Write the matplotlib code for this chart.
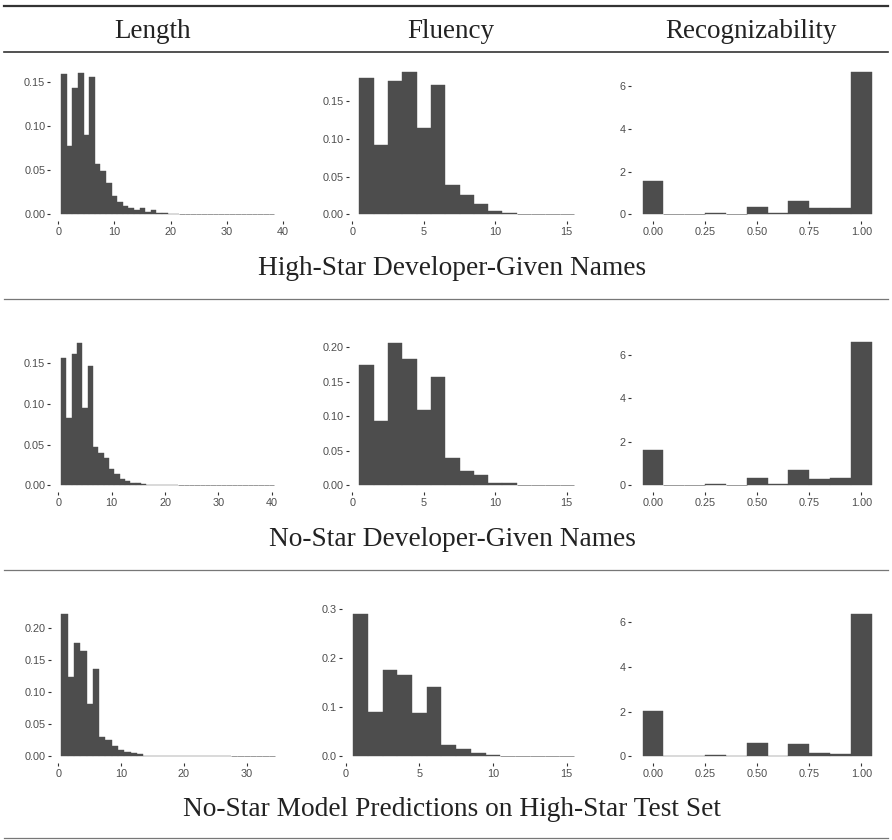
import numpy as np
import matplotlib
matplotlib.use("Agg")
import matplotlib.pyplot as plt
from matplotlib.lines import Line2D

# ---------------- data ----------------
col_titles = ["Length", "Fluency", "Recognizability"]
row_titles = ["High-Star Developer-Given Names",
              "No-Star Developer-Given Names",
              "No-Star Model Predictions on High-Star Test Set"]

# Length histograms (density, bins of width 1 centred on 1, 2, 3, ...)
length_r1 = [0.159, 0.0777, 0.1436, 0.161, 0.090, 0.156, 0.057, 0.049, 0.0356, 0.021,
             0.014, 0.010, 0.0072, 0.005, 0.0076, 0.0027, 0.005, 0.0015, 0.001, 0.0008,
             0.0008, 0.0006,
             0.0002, 0.0002, 0.0002, 0.0002, 0.0002, 0.0002, 0.0002,
             0.0002, 0.0002, 0.0002, 0.0002, 0.0002, 0.0002, 0.0002, 0.0002, 0.0002]
length_r2 = [0.1566, 0.0828, 0.1615, 0.175, 0.095, 0.1467, 0.0471, 0.0398, 0.0336, 0.020,
             0.0139, 0.0078, 0.0053, 0.0029, 0.0025, 0.0016,
             0.0008, 0.0008, 0.0008, 0.0008, 0.0008, 0.0008,
             0.0001, 0.0001, 0.0001, 0.0001, 0.0001, 0.0001, 0.0001,
             0.0002, 0.0002, 0.0002, 0.0002, 0.0002, 0.0002, 0.0002, 0.0002, 0.0002, 0.0002,
             0.0005]
length_r3 = [0.221, 0.123, 0.176, 0.164, 0.0813, 0.1358, 0.030, 0.0254, 0.0161, 0.0098,
             0.0067, 0.0052, 0.0036,
             0.001, 0.001, 0.001, 0.001, 0.001, 0.001, 0.001,
             0.001, 0.001, 0.001, 0.001, 0.001, 0.001, 0.001,
             0.0002, 0.0002, 0.0002, 0.0002, 0.0002, 0.0002, 0.0002]

# Fluency histograms (density, bins centred on 1..15)
fluency_r1 = [0.181, 0.092, 0.177, 0.189, 0.1146, 0.171, 0.039, 0.0257, 0.0137, 0.0044,
              0.0013, 0.0005, 0.0005, 0.0005, 0.0005]
fluency_r2 = [0.175, 0.0932, 0.206, 0.183, 0.109, 0.157, 0.0396, 0.0208, 0.015, 0.0034,
              0.0034, 0.0005, 0.0005, 0.0005, 0.0005]
fluency_r3 = [0.2905, 0.0905, 0.176, 0.166, 0.0884, 0.1415, 0.0231, 0.015, 0.0068, 0.0027,
              0.0007, 0.0007, 0.0007, 0.0007, 0.0007]

# Recognizability histograms (density, bins of width 0.1 centred on 0.0..1.0)
recog_bins = [0.0, 0.1, 0.2, 0.3, 0.4, 0.5, 0.6, 0.7, 0.8, 0.9, 1.0]
recog_r1 = [1.56, 0.015, 0.015, 0.06, 0.015, 0.34, 0.06, 0.62, 0.30, 0.30, 6.65]
recog_r2 = [1.63, 0.005, 0.02, 0.06, 0.02, 0.34, 0.06, 0.71, 0.29, 0.34, 6.57]
recog_r3 = [2.03, 0.03, 0.03, 0.06, 0.03, 0.61, 0.03, 0.55, 0.15, 0.10, 6.37]

length_xticks = [[0, 10, 20, 30, 40], [0, 10, 20, 30, 40], [0, 10, 20, 30]]
length_yticks = [[0, 0.05, 0.10, 0.15], [0, 0.05, 0.10, 0.15], [0, 0.05, 0.10, 0.15, 0.20]]
fluency_xticks = [0, 5, 10, 15]
fluency_yticks = [[0, 0.05, 0.10, 0.15], [0, 0.05, 0.10, 0.15, 0.20], [0, 0.1, 0.2, 0.3]]
recog_xticks = [0, 0.25, 0.50, 0.75, 1.00]
recog_yticks = [0, 2, 4, 6]

# ---------------- layout ----------------
W, H = 892, 840
fig = plt.figure(figsize=(W / 100, H / 100), dpi=100)
BAR = "#4D4D4D"
TICKFONT = "Liberation Sans"
SERIF = "Liberation Serif"

# pixel calibration: (x value a, px a, x value b, px b), (y value a, px a, y value b, px b)
calib = {
    (0, 0): ((0, 58.3, 40, 282.7), (0, 214.3, 0.15, 82.3)),
    (0, 1): ((0, 352.3, 15, 566.7), (0, 214.3, 0.15, 101.3)),
    (0, 2): ((0, 653.0, 1, 861.3), (0, 214.3, 6, 86.0)),
    (1, 0): ((0, 58.3, 40, 271.7), (0, 485.3, 0.15, 363.3)),
    (1, 1): ((0, 352.3, 15, 566.7), (0, 485.3, 0.20, 347.3)),
    (1, 2): ((0, 653.0, 1, 861.3), (0, 485.3, 6, 354.7)),
    (2, 0): ((0, 58.3, 30, 246.7), (0, 756.3, 0.20, 627.7)),
    (2, 1): ((0, 345.7, 15, 566.7), (0, 756.3, 0.3, 609.3)),
    (2, 2): ((0, 653.0, 1, 861.3), (0, 756.3, 6, 622.3)),
}

panels = {
    (0, 0): (length_r1, None, length_xticks[0], length_yticks[0], "{:.2f}", "{:g}"),
    (1, 0): (length_r2, None, length_xticks[1], length_yticks[1], "{:.2f}", "{:g}"),
    (2, 0): (length_r3, None, length_xticks[2], length_yticks[2], "{:.2f}", "{:g}"),
    (0, 1): (fluency_r1, None, fluency_xticks, fluency_yticks[0], "{:.2f}", "{:g}"),
    (1, 1): (fluency_r2, None, fluency_xticks, fluency_yticks[1], "{:.2f}", "{:g}"),
    (2, 1): (fluency_r3, None, fluency_xticks, fluency_yticks[2], "{:.1f}", "{:g}"),
    (0, 2): (recog_r1, recog_bins, recog_xticks, recog_yticks, "{:g}", "{:.2f}"),
    (1, 2): (recog_r2, recog_bins, recog_xticks, recog_yticks, "{:g}", "{:.2f}"),
    (2, 2): (recog_r3, recog_bins, recog_xticks, recog_yticks, "{:g}", "{:.2f}"),
}

for (r, c), (heights, bins, xt, yt, yfmt, xfmt) in panels.items():
    heights = np.asarray(heights, dtype=float)
    if bins is None:
        centers = np.arange(1, len(heights) + 1, dtype=float)
        width = 1.0
    else:
        centers = np.asarray(bins, dtype=float)
        width = 0.1
    lo, hi = centers[0] - width / 2, centers[-1] + width / 2
    ex = 0.05 * (hi - lo)
    xlim = (lo - ex, hi + ex)
    ymax = heights.max()
    ylim = (-0.05 * ymax, 1.05 * ymax)

    (xa, pxa, xb, pxb), (ya, pya, yb, pyb) = calib[(r, c)]
    sx = (pxb - pxa) / (xb - xa)
    sy = (pyb - pya) / (yb - ya)
    left = pxa + (xlim[0] - xa) * sx
    right = pxa + (xlim[1] - xa) * sx
    bottom = pya + (ylim[0] - ya) * sy
    top = pya + (ylim[1] - ya) * sy

    ax = fig.add_axes([left / W, 1 - bottom / H, (right - left) / W, (bottom - top) / H])
    tiny = heights < 0.004 * ymax
    # near-zero bins render as a faint hairline, as in the reference
    ax.bar(centers[~tiny], heights[~tiny], width=width, color=BAR,
           edgecolor=BAR, linewidth=0.3, align="center")
    ax.bar(centers[tiny], heights[tiny], width=width, color=BAR,
           edgecolor="#8A8A8A", linewidth=0.6, align="center")
    ax.set_xlim(*xlim)
    ax.set_ylim(*ylim)
    for s in ax.spines.values():
        s.set_visible(False)
    ax.set_xticks(xt)
    ax.set_xticklabels([xfmt.format(v) for v in xt])
    ax.set_yticks(yt)
    ax.set_yticklabels([yfmt.format(v) for v in yt])
    ax.tick_params(axis="both", length=2.2, width=0.8, color="#333333",
                   labelcolor="#4D4D4D", labelsize=7.8, pad=1.5)
    for lab in ax.get_xticklabels() + ax.get_yticklabels():
        lab.set_fontfamily(TICKFONT)
    ax.patch.set_visible(False)

# ---------------- titles and rules ----------------
col_centers = [153, 451, 751]
for cx, t in zip(col_centers, col_titles):
    fig.text(cx / W, 1 - 37.7 / H, t, ha="center", va="baseline",
             fontsize=19.5, family=SERIF, color="#222222")

row_baselines = [275.0, 545.7, 816.4]
for by, t in zip(row_baselines, row_titles):
    fig.text(452 / W, 1 - by / H, t, ha="center", va="baseline",
             fontsize=19.7, family=SERIF, color="#222222")

def hrule(y, lw, color):
    fig.add_artist(Line2D([4 / W, 888 / W], [1 - y / H, 1 - y / H],
                          transform=fig.transFigure, lw=lw, color=color))

hrule(5.7, 1.6, "#333333")
hrule(52.3, 1.2, "#333333")
hrule(299.0, 0.9, "#777777")
hrule(569.8, 0.9, "#777777")
hrule(837.5, 0.9, "#777777")

fig.savefig("out.png", dpi=100)
